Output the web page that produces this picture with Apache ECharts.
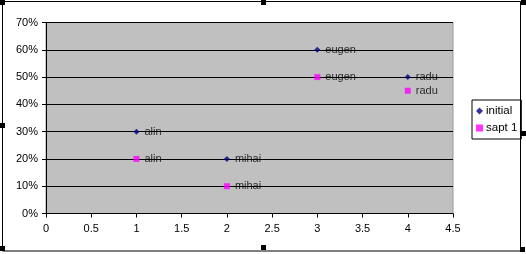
<!DOCTYPE html>
<html><head><meta charset="utf-8">
<script src="https://cdn.jsdelivr.net/npm/echarts@6/dist/echarts.min.js"></script>
<style>html,body{margin:0;padding:0;background:#fff}#c{width:526px;height:254px}</style>
</head><body><div id="c"></div>
<script>
const names = ['alin', 'mihai', 'eugen', 'radu'];
const xValues = [1, 2, 3, 4];
const initialValues = [0.30, 0.20, 0.60, 0.50];
const sapt1Values = [0.20, 0.10, 0.50, 0.45];
const seriesNames = ['initial', 'sapt 1'];

const font = 'Liberation Sans, Arial, sans-serif';
const chart = echarts.init(document.getElementById('c'), null, {renderer: 'canvas'});
function pts(vals){ return xValues.map((x,i)=>({value:[x, vals[i]], name:names[i]})); }
const lbl = {show:true, position:'right', distance:5, formatter:p=>p.name, color:'#000', fontFamily:font, fontSize:11};
const handles = [[0,0],[261,0],[521,0],[0,123],[521,131],[0,246],[261,245],[520,247]].map(h=>({
  type:'rect', shape:{x:h[0], y:h[1], width:5, height:5}, style:{fill:'#000'}, z:100
}));
chart.setOption({
  animation:false,
  textStyle:{fontFamily:font},
  grid:{left:46, top:22.5, width:407, height:191, show:true, backgroundColor:'#c0c0c0', borderColor:'#999', borderWidth:1},
  xAxis:{type:'value', min:0, max:4.5, interval:0.5,
    axisLine:{show:true, onZero:false, lineStyle:{color:'#000', width:1}},
    axisTick:{show:true, length:4, lineStyle:{color:'#000'}},
    splitLine:{show:false},
    axisLabel:{color:'#000', fontSize:11, fontFamily:font, margin:10}},
  yAxis:{type:'value', min:0, max:0.7, interval:0.1,
    axisLine:{show:true, lineStyle:{color:'#000', width:1}},
    axisTick:{show:true, length:4, lineStyle:{color:'#000'}},
    splitLine:{show:true, lineStyle:{color:'#000', width:1}},
    axisLabel:{color:'#000', fontSize:11, fontFamily:font, margin:8, formatter:v=>Math.round(v*100)+'%'}},
  legend:{show:true, orient:'vertical', left:472, top:100, width:47, padding:[5,4,5,4],
    itemGap:5, itemWidth:7, itemHeight:7, borderColor:'#000', borderWidth:1, backgroundColor:'#fff',
    textStyle:{color:'#000', fontSize:11.5, fontFamily:font, padding:[0,0,0,-2]},
    data:[{name:seriesNames[0], icon:'diamond'},{name:seriesNames[1], icon:'rect'}]},
  series:[
    {name:seriesNames[0], type:'scatter', symbol:'diamond', symbolSize:6, itemStyle:{color:'#000080'}, label:lbl, data:pts(initialValues)},
    {name:seriesNames[1], type:'scatter', symbol:'rect', symbolSize:6, itemStyle:{color:'#ff00ff'}, label:lbl, data:pts(sapt1Values)}
  ],
  graphic:[{type:'rect', shape:{x:2.5, y:1.5, width:518, height:249.5}, style:{fill:null, stroke:'#000', lineWidth:1}, z:90}].concat(handles)
});
</script></body></html>
